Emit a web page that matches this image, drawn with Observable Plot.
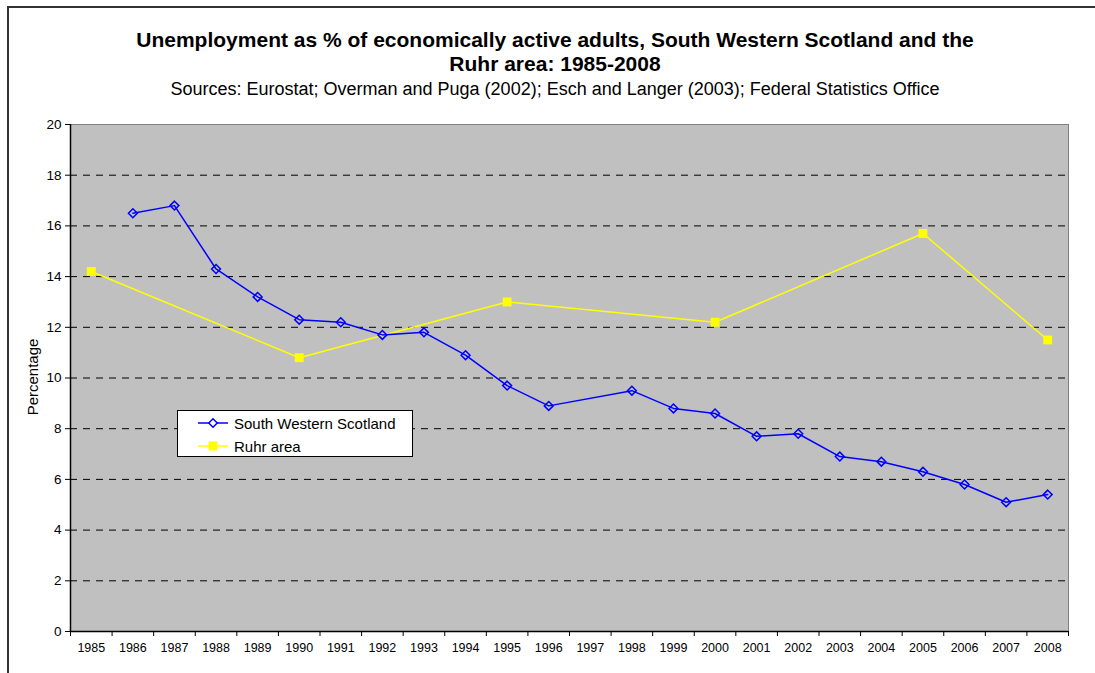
<!DOCTYPE html>
<html><head><meta charset="utf-8">
<script src="https://cdn.jsdelivr.net/npm/d3@7"></script>
<script src="https://cdn.jsdelivr.net/npm/@observablehq/plot@0.6"></script>
<style>
body{margin:0;background:#fff;font-family:"Liberation Sans",Arial,sans-serif;}
#wrap{position:relative;width:1095px;height:673px;overflow:hidden;background:#fff;}
#border{position:absolute;left:7px;top:6px;width:1100px;height:700px;border-left:2px solid #333;border-top:2px solid #333;}
#title{position:absolute;left:0;top:28px;width:1110px;text-align:center;font-weight:bold;font-size:21px;line-height:24px;color:#000;}
#subtitle{position:absolute;left:0;top:78px;width:1110px;text-align:center;font-size:18px;line-height:22px;color:#000;}
#chart{position:absolute;left:0;top:100px;}
#ylabel{position:absolute;left:32px;top:377px;transform:translate(-50%,-50%) rotate(-90deg);font-size:15px;white-space:nowrap;color:#000;}
#legend{position:absolute;left:177px;top:410px;width:234px;height:45px;background:#fff;border:1px solid #000;font-size:15px;}
.item{position:absolute;left:20px;height:20px;display:flex;align-items:center;}
.item svg{margin-right:4px;}
</style>
</head><body>
<div id="wrap">
  <div id="border"></div>
  <div id="title">Unemployment as % of economically active adults, South Western Scotland and the<br>Ruhr area: 1985-2008</div>
  <div id="subtitle">Sources: Eurostat; Overman and Puga (2002); Esch and Langer (2003); Federal Statistics Office</div>
  <div id="chart"></div>
  <div id="ylabel">Percentage</div>
  <div id="legend"></div>
</div>
<script>
const years = [1985,1986,1987,1988,1989,1990,1991,1992,1993,1994,1995,1996,1997,1998,1999,2000,2001,2002,2003,2004,2005,2006,2007,2008];
const swsValues = [null,16.5,16.8,14.3,13.2,12.3,12.2,11.7,11.8,10.9,9.7,8.9,null,9.5,8.8,8.6,7.7,7.8,6.9,6.7,6.3,5.8,5.1,5.4];
const ruhrYears = [1985,1990,1995,2000,2005,2008];
const ruhrValues = [14.2,10.8,13.0,12.2,15.7,11.5];
const yTicks = [0,2,4,6,8,10,12,14,16,18,20];
const seriesNames = ["South Western Scotland","Ruhr area"];
const seriesColors = ["#0000FF","#FFFF00"];

const sws = years.map((y,i)=>({year:y, v:swsValues[i]})).filter(d=>d.v!=null);
const ruhr = ruhrYears.map((y,i)=>({year:y, v:ruhrValues[i]}));
const bounds = years.map(y=>y-0.5).concat([years[years.length-1]+0.5]);

const chart = Plot.plot({
  width:1095, height:570,
  marginTop:24, marginBottom:39, marginLeft:70, marginRight:27,
  x:{domain:[years[0]-0.5, years[years.length-1]+0.5]},
  y:{domain:[0,20]},
  style:{fontFamily:"'Liberation Sans', Arial, sans-serif", background:"transparent", color:"#000", overflow:"visible"},
  marks:[
    Plot.frame({fill:"#C0C0C0", stroke:"#808080"}),
    Plot.ruleY(yTicks.filter(t=>t>0 && t<20), {stroke:"#000", strokeDasharray:"7,6", strokeWidth:1}),
    Plot.axisY({ticks:yTicks, tickSize:5, tickPadding:4, fontSize:13.5, label:null, tickFormat:d=>String(d)}),
    Plot.axisX({ticks:years, tickSize:0, tickPadding:12, fontSize:12.5, label:null, tickFormat:d=>String(d)}),
    Plot.axisX({ticks:bounds, tickSize:5, tickFormat:()=>"", label:null}),
    Plot.ruleX([years[0]-0.5], {stroke:"#000", strokeWidth:1.5}),
    Plot.ruleY([0], {stroke:"#000", strokeWidth:1.5}),
    Plot.line(ruhr, {x:"year", y:"v", stroke:seriesColors[1], strokeWidth:1.5}),
    Plot.dot(ruhr, {x:"year", y:"v", symbol:"square", r:5, fill:seriesColors[1], stroke:"none"}),
    Plot.line(sws, {x:"year", y:"v", stroke:seriesColors[0], strokeWidth:1.5}),
    Plot.dot(sws, {x:"year", y:"v", symbol:"diamond2", r:4, fill:"none", stroke:seriesColors[0], strokeWidth:1.5})
  ]
});
document.getElementById("chart").appendChild(chart);

// legend
const legend = d3.select("#legend");
seriesNames.forEach((name,i)=>{
  const item = legend.append("div").attr("class","item").style("top", (i===0 ? 2 : 25)+"px");
  const svg = item.append("svg").attr("width",32).attr("height",14);
  svg.append("line").attr("x1",0).attr("x2",30).attr("y1",7).attr("y2",7).attr("stroke",seriesColors[i]).attr("stroke-width",1.5);
  if(i===0){
    svg.append("path").attr("d", d3.symbol(d3.symbolDiamond2, Math.PI*3.8*3.8)()).attr("transform","translate(15,7)").attr("fill","#fff").attr("stroke",seriesColors[0]).attr("stroke-width",1.5);
  } else {
    svg.append("rect").attr("x",10.5).attr("y",2.5).attr("width",9).attr("height",9).attr("fill",seriesColors[1]);
  }
  item.append("span").text(name);
});
</script>
</body></html>
